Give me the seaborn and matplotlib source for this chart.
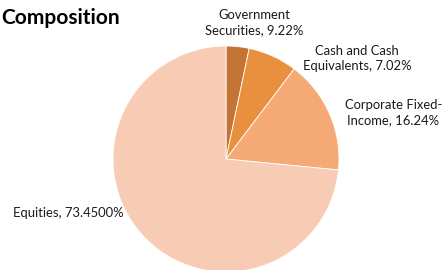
import matplotlib
matplotlib.use("Agg")
import matplotlib.pyplot as plt
import seaborn as sns

# ----------------------------------------
# Data
# ----------------------------------------
categories = ["Government Securities", "Cash and Cash Equivalents",
              "Corporate Fixed-Income", "Equities"]
# slice sizes as drawn in the chart (percent)
shares = [3.29, 7.02, 16.24, 73.45]
# label texts as printed on the chart
label_texts = ["Government\nSecurities, 9.22%",
               "Cash and Cash\nEquivalents, 7.02%",
               "Corporate Fixed-\nIncome, 16.24%",
               "Equities, 73.4500%"]
colors = ["#C47535", "#E9903F", "#F5AA76", "#F8CBB4"]

# ----------------------------------------
# Plot
# ----------------------------------------
sns.set_theme(style="white")
plt.rcParams["font.family"] = ["Lato", "DejaVu Sans"]

W, H = 443, 270
fig = plt.figure(figsize=(W / 100, H / 100), dpi=100)

cx, cy, r = 226, 159, 113
ax = fig.add_axes([(cx - r) / W, (H - cy - r) / H, 2 * r / W, 2 * r / H])

ax.pie(
    shares,
    colors=colors,
    startangle=90,
    counterclock=False,
    radius=1,
    wedgeprops=dict(edgecolor="white", linewidth=0.6),
)
ax.set_xlim(-1, 1)
ax.set_ylim(-1, 1)
ax.set_aspect("equal")
ax.axis("off")

# label placement (pie radius units)
label_pos = [(0.25, 1.21, "center"), (1.16, 0.89, "center"),
             (1.48, 0.41, "center"), (-0.91, -0.48, "right")]
for text, (lx, ly, ha) in zip(label_texts, label_pos):
    ax.text(lx, ly, text, ha=ha, va="center", fontsize=9.4,
            color="#1a1a1a", linespacing=1.35, clip_on=False)

fig.text(0.002, 0.935, "Composition", ha="left", va="center",
         fontsize=15, fontweight="bold", color="black")

fig.savefig("out.png", dpi=100)
